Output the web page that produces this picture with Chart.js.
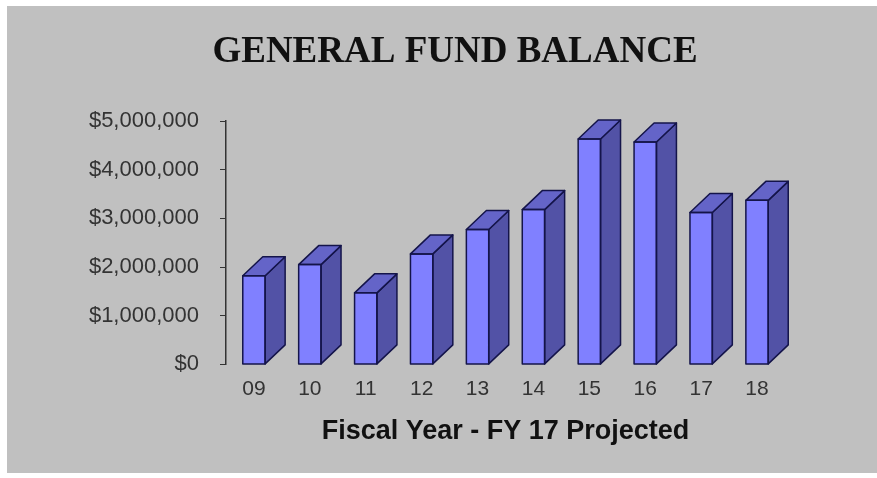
<!DOCTYPE html>
<html>
<head>
<meta charset="utf-8">
<script src="https://cdn.jsdelivr.net/npm/chart.js@4/dist/chart.umd.min.js"></script>
<style>
  html, body { margin: 0; padding: 0; background: #ffffff; }
  #wrap { position: relative; width: 877px; height: 478px; }
  canvas { display: block; }
</style>
</head>
<body>
<div id="wrap"><canvas id="c" width="877" height="478"></canvas></div>
<script>
const categories = ["09", "10", "11", "12", "13", "14", "15", "16", "17", "18"];
const balances = [1820000, 2050000, 1470000, 2270000, 2770000, 3180000, 4630000, 4570000, 3120000, 3370000];
const yTicks = [0, 1000000, 2000000, 3000000, 4000000, 5000000];
const chartTitle = "GENERAL FUND BALANCE";
const xAxisTitle = "Fiscal Year - FY 17 Projected";

const panelPlugin = {
  id: 'panel',
  beforeDraw(chart) {
    const ctx = chart.ctx;
    ctx.save();
    ctx.fillStyle = '#ffffff';
    ctx.fillRect(0, 0, chart.width, chart.height);
    ctx.fillStyle = '#c0c0c0';
    ctx.fillRect(7, 6, chart.width - 7, 467);
    ctx.restore();
  },
  afterDraw(chart) {
    const ctx = chart.ctx;
    ctx.save();
    ctx.fillStyle = '#111111';
    ctx.font = 'bold 37px "Liberation Serif"';
    ctx.textAlign = 'center';
    ctx.textBaseline = 'alphabetic';
    ctx.fillText(chartTitle, 455, 62);
    ctx.restore();
  }
};

const bar3dPlugin = {
  id: 'bar3d',
  afterDatasetsDraw(chart) {
    const ctx = chart.ctx;
    const dx = 20, dy = 19;
    chart.getDatasetMeta(0).data.forEach(el => {
      const p = el.getProps(['x', 'y', 'base', 'width'], true);
      const l = p.x - p.width / 2, r = p.x + p.width / 2;
      const t = p.y, b = p.base;
      ctx.save();
      ctx.lineWidth = 1.5;
      ctx.strokeStyle = '#14144a';
      ctx.lineJoin = 'round';
      ctx.beginPath();
      ctx.moveTo(r, t); ctx.lineTo(r + dx, t - dy); ctx.lineTo(r + dx, b - dy); ctx.lineTo(r, b); ctx.closePath();
      ctx.fillStyle = '#5252a6';
      ctx.fill(); ctx.stroke();
      ctx.beginPath();
      ctx.moveTo(l, t); ctx.lineTo(l + dx, t - dy); ctx.lineTo(r + dx, t - dy); ctx.lineTo(r, t); ctx.closePath();
      ctx.fillStyle = '#6464c8';
      ctx.fill(); ctx.stroke();
      ctx.strokeRect(l, t, p.width, b - t);
      ctx.restore();
    });
  }
};

new Chart(document.getElementById('c'), {
  type: 'bar',
  data: {
    labels: categories,
    datasets: [{
      data: balances,
      backgroundColor: '#8080ff',
      borderWidth: 0,
      categoryPercentage: 1.0,
      barPercentage: 0.4
    }]
  },
  options: {
    responsive: false,
    animation: false,
    layout: { padding: { left: 80, right: 92, top: 121, bottom: 30 } },
    plugins: {
      legend: { display: false },
      tooltip: { enabled: false },
      title: { display: false }
    },
    scales: {
      x: {
        grid: { display: false, drawTicks: false },
        border: { display: false },
        ticks: {
          color: '#333333',
          font: { family: 'Liberation Sans', size: 21 },
          padding: 12
        },
        title: {
          display: true,
          text: xAxisTitle,
          color: '#111111',
          font: { family: 'Liberation Sans', size: 27, weight: 'bold' },
          padding: { top: 2, bottom: 0 }
        }
      },
      y: {
        min: 0,
        max: 5000000,
        afterFit(scale) { scale.width = 146; },
        afterBuildTicks(scale) { scale.ticks = yTicks.map(v => ({ value: v })); },
        grid: { drawOnChartArea: false, drawTicks: true, tickLength: 6, color: '#333333' },
        border: { display: true, color: '#333333', width: 1.5 },
        ticks: {
          color: '#333333',
          font: { family: 'Liberation Sans', size: 22 },
          padding: 21,
          callback: v => '$' + Number(v).toLocaleString('en-US')
        }
      }
    }
  },
  plugins: [panelPlugin, bar3dPlugin]
});
</script>
</body>
</html>
